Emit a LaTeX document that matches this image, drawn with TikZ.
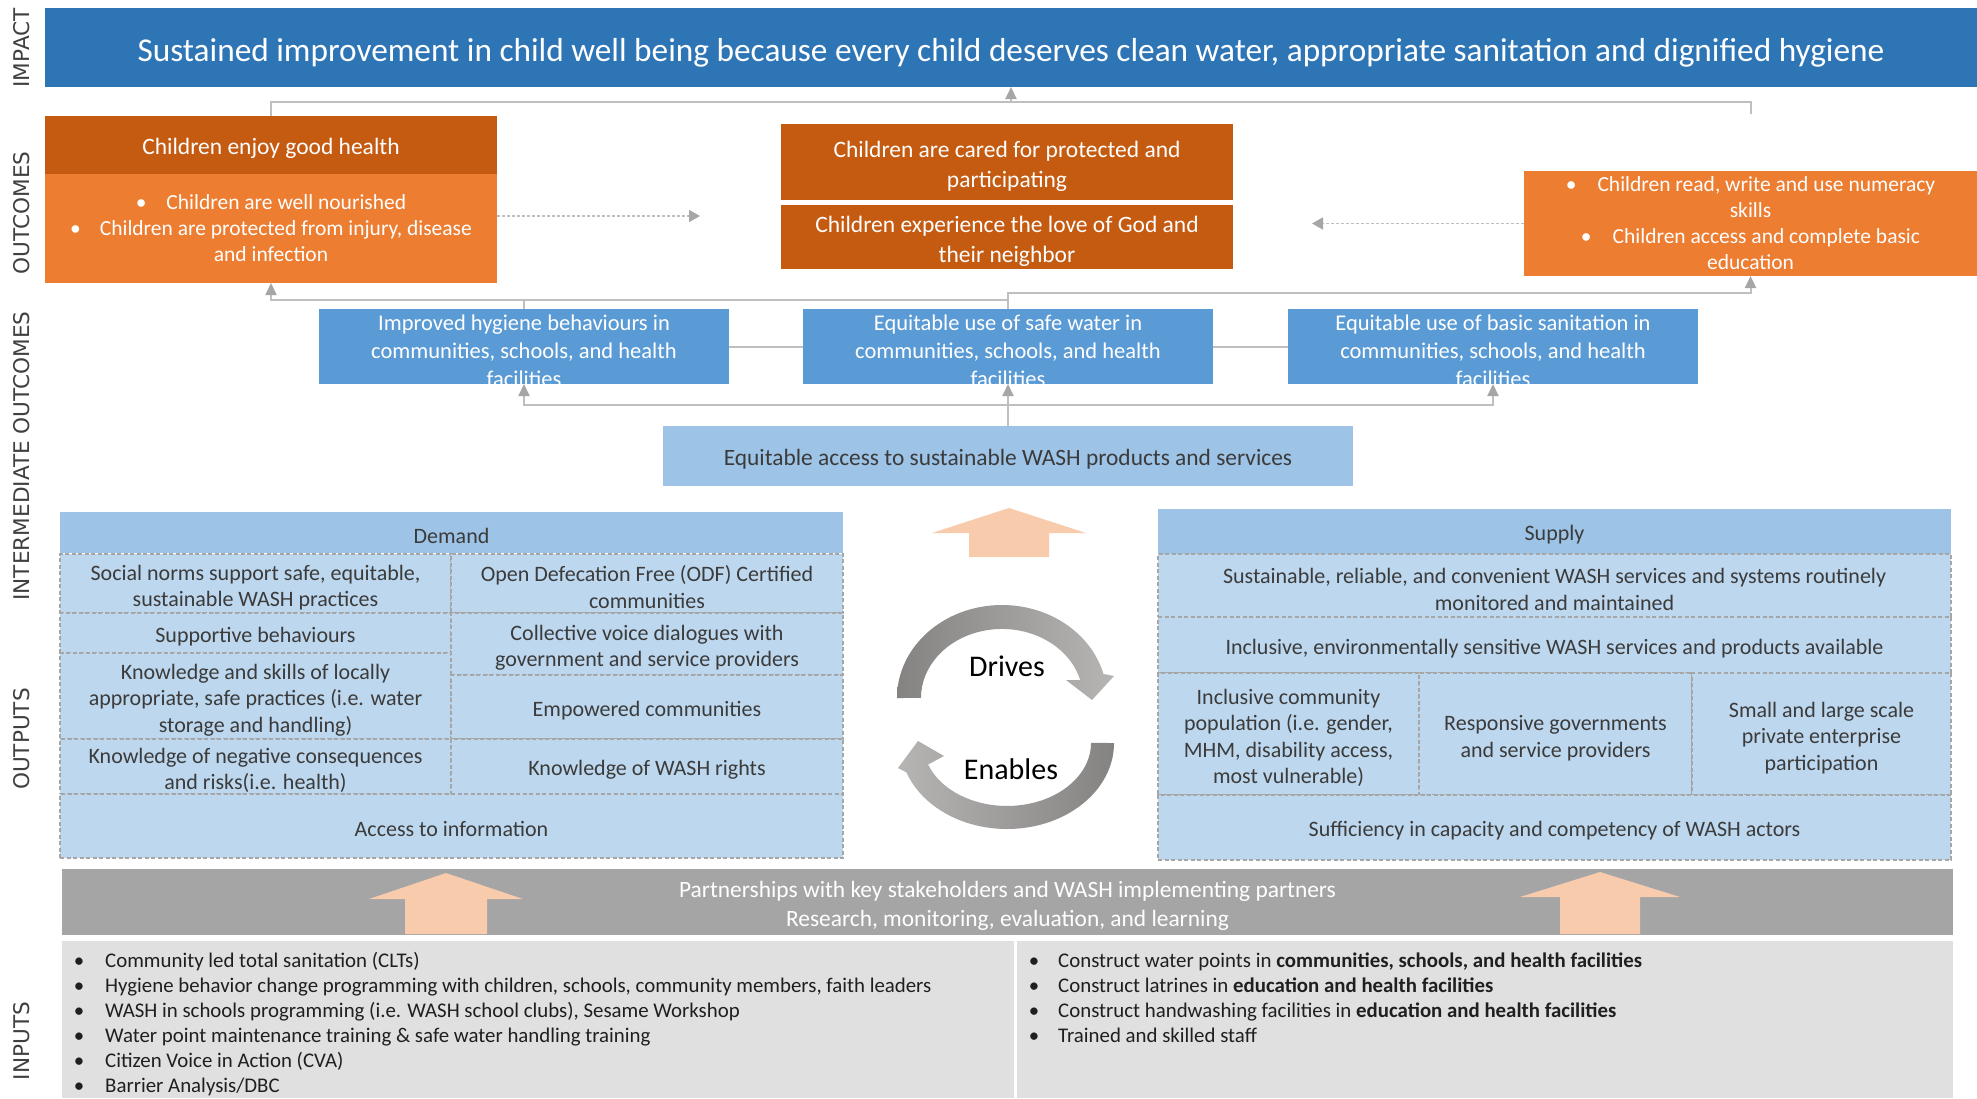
\documentclass[tikz,border=0pt]{standalone}
\usepackage{fontspec}
\setmainfont{Carlito}
\newfontfamily\tierfont{DejaVu Sans}
\usetikzlibrary{arrows.meta}

\definecolor{impactblue}{HTML}{2E75B6}
\definecolor{outdark}{HTML}{C55A11}
\definecolor{outlight}{HTML}{ED7D31}
\definecolor{midblue}{HTML}{5B9BD5}
\definecolor{paleblue}{HTML}{9DC3E6}
\definecolor{cellblue}{HTML}{BDD7EE}
\definecolor{peach}{HTML}{F8CBAD}
\definecolor{bandgray}{HTML}{A5A5A5}
\definecolor{inputgray}{HTML}{E0E0E0}
\definecolor{linkgray}{HTML}{BFBFBF}
\definecolor{tipgray}{HTML}{A6A6A6}
\definecolor{inktext}{HTML}{3B3B3B}
\definecolor{tiertext}{HTML}{404040}
\definecolor{arcdark}{HTML}{858282}
\definecolor{arclight}{HTML}{B7B4B4}

% taller first line, sits the text a little lower in its box
\newcommand\lift{\rule{0pt}{1.05em}}

\tikzset{
  box/.style={rectangle, inner sep=0pt, outer sep=0pt, align=center,
    execute at begin node={\rule{0pt}{1em}}},
  tier/.style={rotate=90, text=tiertext, font=\tierfont\fontsize{21.6}{25}\selectfont},
  impactbar/.style={box, fill=impactblue, text=white, font=\fontsize{33.3}{38}\selectfont},
  outhead/.style={box, fill=outdark, text=white, font=\fontsize{23.5}{29.5}\selectfont},
  outbody/.style={box, fill=outlight, text=white, font=\fontsize{21.5}{26}\selectfont},
  midbox/.style={box, fill=midblue, minimum width=410, minimum height=75},
  midtext/.style={box, text=white, font=\fontsize{22.5}{28}\selectfont},
  accessbox/.style={box, fill=paleblue, text=inktext, font=\fontsize{23.4}{28}\selectfont},
  panelhead/.style={box, anchor=north west, fill=paleblue, text=inktext, font=\fontsize{22}{26}\selectfont},
  cell/.style={box, anchor=north west, fill=cellblue, draw=gray!70, line width=1.2pt,
    dash pattern=on 4pt off 2.5pt, text=inktext, font=\fontsize{22}{26.5}\selectfont},
  cyclelbl/.style={inner sep=0pt, text=black, font=\fontsize{30}{34}\selectfont},
  initem/.style={inner sep=0pt, anchor=base west, text=black!88, font=\fontsize{20.85}{25}\selectfont},
  link/.style={draw=linkgray, line width=2pt},
  arr/.style={link, -{Triangle[width=11pt, length=12pt, color=tipgray]}},
  dotarr/.style={draw=linkgray, line width=1.6pt, dash pattern=on 3pt off 2pt,
    -{Triangle[width=12pt, length=11pt, color=tipgray]}},
  pics/bigup/.style n args={4}{code={%
    \fill[peach] (0,0) -- (#1,#3) -- (#2,#3) -- (#2,#4) -- (-#2,#4) -- (-#2,#3) -- (-#1,#3) -- cycle;}},
}

\begin{document}
\begin{tikzpicture}[x=1pt, y=-1pt]
\useasboundingbox[fill=white] (0,0) rectangle (1977,1098);

% tier labels along the left margin
\node[tier] (tImpact) at (22,48) {IMPACT};
\node[tier] (tOutcomes) at (22,213) {OUTCOMES};
\node[tier] (tInter) at (22,456) {INTERMEDIATE OUTCOMES};
\node[tier] (tOutputs) at (22,739) {OUTPUTS};
\node[tier] (tInputs) at (22,1041) {INPUTS};

% impact
\node[impactbar, minimum width=1932, minimum height=79] (impact) at (1011,47.5)
  {Sustained improvement in child well being because every child deserves clean water, appropriate sanitation and dignified hygiene};

% outcomes
\node[outhead, minimum width=452, minimum height=58] (health) at (271,145) {Children enjoy good health};
\node[outbody, minimum width=452, minimum height=109] (healthSub) at (271,228.5)
  {\textbullet\hspace{20pt}Children are well nourished\\
   \textbullet\hspace{19pt}Children are protected from injury, disease\\
   and infection};
\node[outhead, minimum width=452, minimum height=76] (care) at (1007,162)
  {\lift Children are cared for protected and\\ participating};
\node[outhead, minimum width=452, minimum height=64] (love) at (1007,237)
  {\lift Children experience the love of God and\\ their neighbor};
\node[outbody, minimum width=453, minimum height=105] (learn) at (1750.5,223.5)
  {\textbullet\hspace{21pt}Children read, write and use numeracy\\
   skills\\
   \textbullet\hspace{21pt}Children access and complete basic\\
   education};

% links up to the impact bar
\coordinate (topR) at (1751,102);
\coordinate (topEnd) at (1751,114);
\draw[link] (health.north) |- (topR) -- (topEnd);
\draw[arr] (impact.south |- topR) -- (impact.south);

% dotted links between outcomes
\coordinate (dotL) at (700,216);
\coordinate (dotR) at (1312,223.5);
\draw[dotarr] (healthSub.east |- dotL) -- (dotL);
\draw[dotarr] (learn.west) -- (dotR);

% intermediate outcomes
\node[midbox] (hyg) at (524,346.5) {};
\node[midbox] (water) at (1008,346.5) {};
\node[midbox] (sani) at (1493,346.5) {};
\node[midtext] (hygText) at (hyg) {\lift Improved hygiene behaviours in\\ communities, schools, and health\\ facilities};
\node[midtext] (waterText) at (water) {\lift Equitable use of safe water in\\ communities, schools, and health\\ facilities};
\node[midtext] (saniText) at (sani) {\lift Equitable use of basic sanitation in\\ communities, schools, and health\\ facilities};
\draw[link] (hyg.east) -- (water.west);
\draw[link] (water.east) -- (sani.west);

\coordinate (jL) at (271,300);
\draw[arr] (hyg.north) |- (jL) -- (healthSub.south);
\draw[link] (water.north) |- (jL);
\draw[arr] (water.north) -- ++(0,-16) -| (learn.south);

\node[accessbox, minimum width=690, minimum height=60] (access) at (1008,456)
  {Equitable access to sustainable WASH products and services};
\coordinate (jB) at (1008,405);
\draw[arr] (access.north) -- (water.south);
\draw[arr] (jB) -| (hyg.south);
\draw[arr] (jB) -| (sani.south);

\pic at (1009,508) {bigup={77}{40}{25}{49}};

% demand side
\node[panelhead, minimum width=783, minimum height=41] (demand) at (60,512) {Demand};
\node[cell, minimum width=391, minimum height=59] (dNorms) at (60,554) {\lift Social norms support safe, equitable,\\ sustainable WASH practices};
\node[cell, minimum width=391, minimum height=40] (dSupport) at (60,613) {Supportive behaviours};
\node[cell, minimum width=391, minimum height=86] (dSkills) at (60,653) {\lift Knowledge and skills of locally\\ appropriate, safe practices (i.e. water\\ storage and handling)};
\node[cell, minimum width=391, minimum height=55] (dRisks) at (60,739) {\lift Knowledge of negative consequences\\ and risks(i.e. health)};
\node[cell, minimum width=392, minimum height=59] (dOdf) at (451,554) {\lift Open Defecation Free (ODF) Certified\\ communities};
\node[cell, minimum width=392, minimum height=62] (dVoice) at (451,613) {\lift Collective voice dialogues with\\ government and service providers};
\node[cell, minimum width=392, minimum height=64] (dEmpower) at (451,675) {Empowered communities};
\node[cell, minimum width=392, minimum height=55] (dRights) at (451,739) {Knowledge of WASH rights};
\node[cell, minimum width=783, minimum height=64] (dInfo) at (60,794) {Access to information};

% supply side
\node[panelhead, minimum width=793, minimum height=45] (supply) at (1158,509) {Supply};
\node[cell, minimum width=793, minimum height=63] (sSystems) at (1158,554) {\lift Sustainable, reliable, and convenient WASH services and systems routinely\\ monitored and maintained};
\node[cell, minimum width=793, minimum height=56] (sProducts) at (1158,617) {Inclusive, environmentally sensitive WASH services and products available};
\node[cell, minimum width=261, minimum height=122] (sInclusive) at (1158,673) {\lift Inclusive community\\ population (i.e. gender,\\ MHM, disability access,\\ most vulnerable)};
\node[cell, minimum width=273, minimum height=122] (sGov) at (1419,673) {\lift Responsive governments\\ and service providers};
\node[cell, minimum width=259, minimum height=122] (sPrivate) at (1692,673) {\lift Small and large scale\\ private enterprise\\ participation};
\node[cell, minimum width=793, minimum height=65] (sActors) at (1158,795) {Sufficiency in capacity and competency of WASH actors};

% drives / enables cycle
\shade[left color=arcdark, right color=arclight]
  (897,698) arc[start angle=180, end angle=345, x radius=105, y radius=93]
  -- (1114,676) -- (1092,700) -- (1066,680)
  -- (1080.2,680.1) arc[start angle=345, end angle=180, x radius=81, y radius=69] -- cycle;
\shade[left color=arclight, right color=arcdark]
  (1114,743) arc[start angle=0, end angle=160, x radius=107, y radius=86]
  -- (898,768) -- (918,741) -- (944,756)
  -- (928.1,764.5) arc[start angle=160, end angle=0, x radius=84, y radius=63] -- cycle;
\node[cyclelbl] (drives) at (1007,666) {Drives};
\node[cyclelbl] (enables) at (1011,769) {Enables};

% partnerships band
\node[box, anchor=north west, fill=bandgray, text=white, font=\fontsize{23.4}{29}\selectfont,
  minimum width=1891, minimum height=66] (partners) at (62,869)
  {\lift Partnerships with key stakeholders and WASH implementing partners\\ Research, monitoring, evaluation, and learning};
\pic at (446,873) {bigup={77}{41}{26}{61}};
\pic at (1600,872) {bigup={80}{40}{25}{62}};

% inputs
\node[box, anchor=north west, fill=inputgray, minimum width=1891, minimum height=157] (inputs) at (62,941) {};
\coordinate (split) at (1015,941);
\draw[white, line width=3pt] (split) -- (split |- inputs.south);

\foreach \txt [count=\i] in {{Community led total sanitation (CLTs)},
    {Hygiene behavior change programming with children, schools, community members, faith leaders},
    {WASH in schools programming (i.e. WASH school clubs), Sesame Workshop},
    {Water point maintenance training \& safe water handling training},
    {Citizen Voice in Action (CVA)},
    {Barrier Analysis/DBC}}
  \node[initem] (inL\i) at (105,942+25*\i) {\llap{\textbullet\hspace{21pt}}\txt};

\foreach \txt [count=\i] in {{Construct water points in \textbf{communities, schools, and health facilities}},
    {Construct latrines in \textbf{education and health facilities}},
    {Construct handwashing facilities in \textbf{education and health facilities}},
    {Trained and skilled staff}}
  \node[initem] (inR\i) at (1058,942+25*\i) {\llap{\textbullet\hspace{19pt}}\txt};

\end{tikzpicture}
\end{document}
